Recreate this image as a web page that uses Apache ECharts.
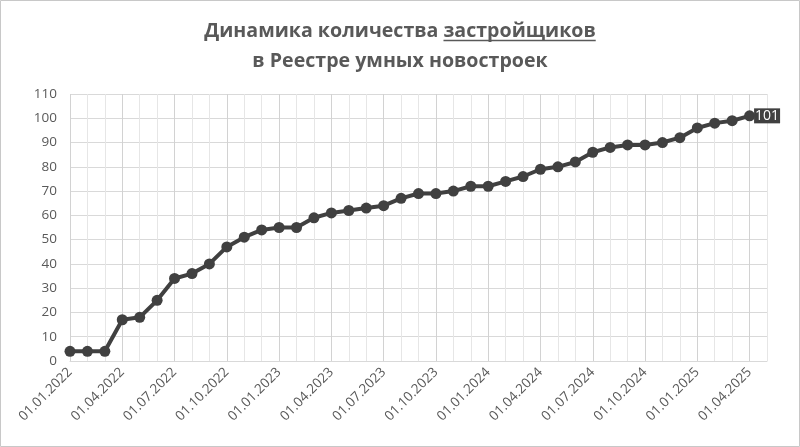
<!DOCTYPE html>
<html><head><meta charset="utf-8">
<script src="https://cdn.jsdelivr.net/npm/echarts@6/dist/echarts.min.js"></script>
<style>html,body{margin:0;padding:0;background:#fff}#c{width:800px;height:447px}</style>
</head><body><div id="c"></div>
<script>
const titleLine1Prefix = 'Динамика количества ';
const titleLine1Word = 'застройщиков';
const titleLine2 = 'в Реестре умных новостроек';

const dates = [
  '01.01.2022','01.02.2022','01.03.2022','01.04.2022','01.05.2022','01.06.2022',
  '01.07.2022','01.08.2022','01.09.2022','01.10.2022','01.11.2022','01.12.2022',
  '01.01.2023','01.02.2023','01.03.2023','01.04.2023','01.05.2023','01.06.2023',
  '01.07.2023','01.08.2023','01.09.2023','01.10.2023','01.11.2023','01.12.2023',
  '01.01.2024','01.02.2024','01.03.2024','01.04.2024','01.05.2024','01.06.2024',
  '01.07.2024','01.08.2024','01.09.2024','01.10.2024','01.11.2024','01.12.2024',
  '01.01.2025','01.02.2025','01.03.2025','01.04.2025',
  '' // extra empty slot at the axis end
];
const developers = [
  4, 4, 4, 17, 18, 25, 34, 36, 40, 47, 51, 54,
  55, 55, 59, 61, 62, 63, 64, 67, 69, 69, 70, 72,
  72, 74, 76, 79, 80, 82, 86, 88, 89, 89, 90, 92,
  96, 98, 99, 101
];
const yMin = 0, yMax = 110, yStep = 10;

const chart = echarts.init(document.getElementById('c'), null, {renderer: 'canvas'});

const titleSize = 19.6;
const titleFont = 'bold ' + titleSize + 'px "Open Sans", "Noto Sans", sans-serif';
const ctx = document.createElement('canvas').getContext('2d');
ctx.font = titleFont;
const fullW = ctx.measureText(titleLine1Prefix + titleLine1Word).width;
const preW = ctx.measureText(titleLine1Prefix).width;
const wordW = ctx.measureText(titleLine1Word).width;
const ulX1 = 400 - fullW / 2 + preW;
const ulX2 = ulX1 + wordW;

const lastIdx = developers.length - 1;
const seriesData = developers.map((v, i) => i === lastIdx
  ? {value: v, label: {show: true}}
  : v);

chart.setOption({
  backgroundColor: '#ffffff',
  animation: false,
  title: {
    text: titleLine1Prefix + titleLine1Word + '\n' + titleLine2,
    left: 'center',
    top: 11,
    textStyle: {
      fontFamily: '"Open Sans", "Noto Sans", sans-serif',
      fontSize: titleSize, fontWeight: 'bold', color: '#595959', lineHeight: 30
    }
  },
  graphic: [
    {type: 'rect', silent: true, shape: {x: 0.5, y: 0.5, width: 799, height: 446},
     style: {fill: 'none', stroke: '#c8c8c8', lineWidth: 1}},
    {type: 'line', silent: true, shape: {x1: ulX1, y1: 40.5, x2: ulX2, y2: 40.5},
     style: {stroke: '#595959', lineWidth: 1.3}}
  ],
  grid: {left: 70, right: 33, top: 94, bottom: 86, containLabel: false},
  xAxis: {
    type: 'category',
    data: dates,
    boundaryGap: false,
    axisLine: {show: true, lineStyle: {color: '#d9d9d9', width: 1}},
    axisTick: {show: false},
    axisLabel: {
      interval: 2, rotate: 45, margin: 9,
      fontFamily: '"Open Sans", "Noto Sans", sans-serif',
      fontSize: 13.5, color: '#595959'
    },
    splitLine: {show: true, interval: 0,
      lineStyle: {color: ['#d2d2d2', '#e6e6e6', '#e6e6e6'], width: 1}}
  },
  yAxis: {
    type: 'value', min: yMin, max: yMax, interval: yStep,
    axisLine: {show: false}, axisTick: {show: false},
    axisLabel: {
      margin: 13,
      fontFamily: '"Open Sans", "Noto Sans", sans-serif',
      fontSize: 13.5, color: '#595959'
    },
    splitLine: {show: true, lineStyle: {color: '#d9d9d9', width: 1}}
  },
  series: [{
    type: 'line',
    data: seriesData,
    symbol: 'circle', symbolSize: 11,
    lineStyle: {color: '#404040', width: 4},
    itemStyle: {color: '#404040'},
    label: {
      show: false, position: 'right', distance: -1,
      backgroundColor: '#404040', color: '#ffffff',
      fontFamily: '"Open Sans", "Noto Sans", sans-serif',
      fontSize: 14, padding: [1, 1, 0, 1]
    }
  }]
});
</script></body></html>
